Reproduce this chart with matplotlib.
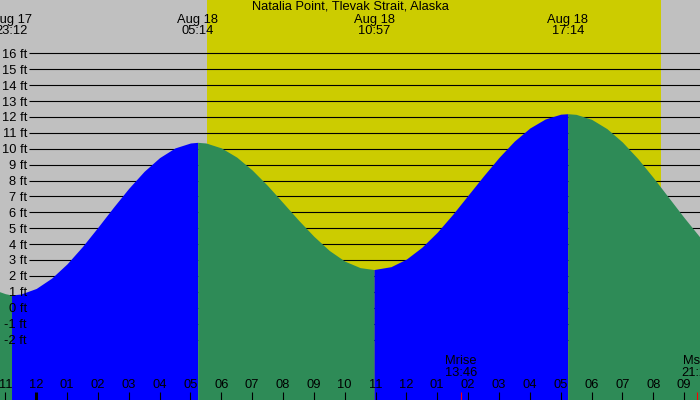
import matplotlib
matplotlib.use('Agg')
import matplotlib.pyplot as plt
import numpy as np

# Station name shown along the top
title = 'Natalia Point, Tlevak Strait, Alaska'

# Tide height (hours from midnight Aug 18, feet)
tide_hours = [-1.25, -1.0, -0.8, -0.5, 0.0, 0.5, 1.0, 1.5, 2.0, 2.5, 3.0,
              3.5, 4.0, 4.5, 5.0, 5.233, 5.5, 6.0, 6.5, 7.0, 7.5, 8.0, 8.5,
              9.0, 9.5, 10.0, 10.5, 10.95, 11.5, 12.0, 12.5, 13.0, 13.5,
              14.0, 14.5, 15.0, 15.5, 16.0, 16.5, 17.0, 17.233, 17.5, 18.0,
              18.5, 19.0, 19.5, 20.0, 20.5, 21.0, 21.5, 22.0]
tide_ft = [1.05, 0.88, 0.80, 0.86, 1.21, 1.86, 2.76, 3.85, 5.06, 6.31, 7.51,
           8.58, 9.44, 10.05, 10.36, 10.40, 10.36, 10.05, 9.47, 8.66, 7.68,
           6.60, 5.51, 4.49, 3.60, 2.93, 2.52, 2.40, 2.58, 3.06, 3.80, 4.75,
           5.87, 7.08, 8.29, 9.45, 10.48, 11.30, 11.87, 12.17, 12.20, 12.16,
           11.85, 11.26, 10.42, 9.38, 8.19, 6.93, 5.67, 4.47, 3.41]

# High / low labels at the top
extreme_dates = ['Aug 17', 'Aug 18', 'Aug 18', 'Aug 18']
extreme_times = ['23:12', '05:14', '10:57', '17:14']

# Daylight
sunrise = '05:32'
sunset = '20:15'

# Moon rise / set
moon_labels = ['Mrise', 'Mset']
moon_times = ['13:46', '21:26']

# Height lines and hour ticks
depth_levels = list(range(-2, 17))
hour_ticks = list(range(-1, 22))

# Colours
NIGHT = '#c0c0c0'
DAY = '#cccc00'
RISING = '#0000ff'
FALLING = '#2e8b57'

# Pixel scale of the original picture (700x400)
PX_PER_HOUR = 30.85
MIDNIGHT_PX = 36.2
PX_PER_FT = 15.9
ZERO_FT_PX = 307.7


def to_hours(date, clock):
    # hours relative to midnight Aug 18
    hh, mm = clock.split(':')
    h = int(hh) + int(mm) / 60.0
    if date == 'Aug 17':
        h -= 24
    return h


def hour_label(h):
    return '%02d' % ((h - 1) % 12 + 1)


def main():
    plt.rcParams['font.family'] = ['Liberation Sans', 'DejaVu Sans']
    plt.rcParams['font.size'] = 9.3

    fig = plt.figure(figsize=(7, 4), dpi=100, facecolor=NIGHT)
    ax = fig.add_axes([0, 0, 1, 1])
    ax.set_facecolor(NIGHT)

    x_left = -MIDNIGHT_PX / PX_PER_HOUR
    x_right = (700 - MIDNIGHT_PX) / PX_PER_HOUR
    y_top = ZERO_FT_PX / PX_PER_FT
    y_bottom = (ZERO_FT_PX - 400) / PX_PER_FT
    ax.set_xlim(x_left, x_right)
    ax.set_ylim(y_bottom, y_top)
    ax.axis('off')

    # daylight band
    ax.axvspan(to_hours('Aug 18', sunrise), to_hours('Aug 18', sunset),
               color=DAY, lw=0, zorder=0)

    # height lines behind the water
    line_start = (29.3 - MIDNIGHT_PX) / PX_PER_HOUR
    ax.hlines(depth_levels, line_start, x_right, colors='black', lw=0.8, zorder=1)

    # split the curve at every turn, blue while rising, green while falling
    hours = np.array(tide_hours)
    ft = np.array(tide_ft)
    turns = [0]
    for i in range(1, len(ft) - 1):
        if (ft[i] - ft[i - 1]) * (ft[i + 1] - ft[i]) < 0:
            turns.append(i)
    turns.append(len(ft) - 1)
    for a, b in zip(turns[:-1], turns[1:]):
        seg_h = hours[a:b + 1]
        seg_f = ft[a:b + 1]
        colour = RISING if seg_f[-1] > seg_f[0] else FALLING
        ax.fill_between(seg_h, seg_f, y_bottom, color=colour, lw=0, zorder=2)

    # height labels
    ytrans = ax.get_yaxis_transform()
    for lvl in depth_levels:
        ax.text(27 / 700, lvl, '%d ft' % lvl, ha='right', va='center_baseline',
                transform=ytrans, zorder=5)

    xtrans = ax.get_xaxis_transform()

    # title and high/low times
    ax.text(0.5, 1 - 6.7 / 400, title, ha='center', va='center',
            transform=ax.transAxes, zorder=5)
    for date, clock in zip(extreme_dates, extreme_times):
        h = to_hours(date, clock)
        ax.text(h, 1 - 19.5 / 400, date, ha='center', va='center',
                transform=xtrans, zorder=5)
        ax.text(h, 1 - 31.5 / 400, clock, ha='center', va='center',
                transform=xtrans, zorder=5)

    # hour ticks along the bottom
    for h in hour_ticks:
        width = 2.2 if h % 24 == 0 else 0.8
        ax.vlines(h, 0, 8 / 400, colors='black', lw=width, transform=xtrans, zorder=5)
        ax.text(h, 1 - 385.5 / 400, hour_label(h), ha='center', va='center',
                transform=xtrans, zorder=5)

    # moon rise and set
    for name, clock in zip(moon_labels, moon_times):
        h = to_hours('Aug 18', clock)
        ax.vlines(h, 0, 8 / 400, colors='red', lw=0.8, transform=xtrans, zorder=6)
        ax.text(h, 1 - 361 / 400, name, ha='center', va='center',
                transform=xtrans, zorder=5)
        ax.text(h, 1 - 373 / 400, clock, ha='center', va='center',
                transform=xtrans, zorder=5)

    fig.savefig('out.png', dpi=100, facecolor=NIGHT)


if __name__ == '__main__':
    main()
